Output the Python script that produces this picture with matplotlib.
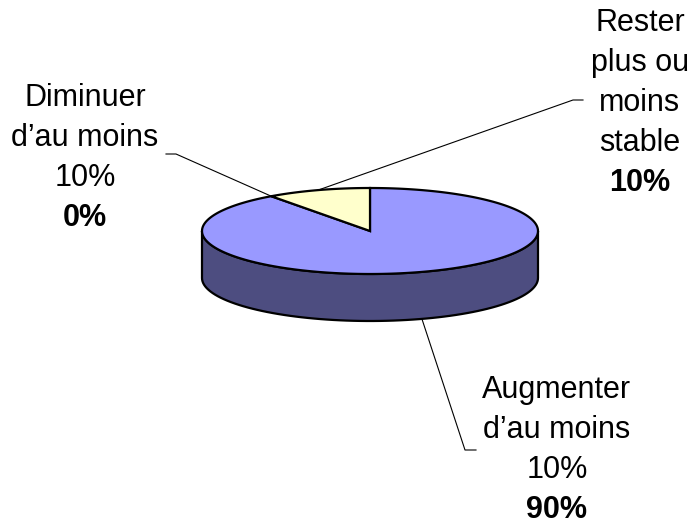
import numpy as np
import matplotlib
matplotlib.use("Agg")
import matplotlib.pyplot as plt
from matplotlib.patches import Polygon

# data (order as in the original sheet)
labels = ["Augmenter\nd\u2019au moins\n10%", "Diminuer\nd\u2019au moins\n10%", "Rester\nplus ou\nmoins\nstable"]
values = [90, 0, 10]
pct_labels = ["90%", "0%", "10%"]
top_colors = ["#9999FF", "#993366", "#FFFFCC"]
side_colors = ["#4D4D80", "#4D1A33", "#808066"]

# layout (pixels)
cx, cy, a, b, depth = 370, 231, 168, 43, 47
label_pos = [(557, 398), (85, 106), (640, 31)]      # text centre x, first baseline
elbows = [((465, 450), (476, 450)), ((176, 154), (166, 154)), ((573, 100), (583, 100))]
line_gap = 40

fig = plt.figure(figsize=(6.91, 5.27), dpi=100)
ax = fig.add_axes([0, 0, 1, 1])
ax.set_xlim(0, 691)
ax.set_ylim(527, 0)
ax.axis("off")


def rim(t, dy=0):
    t = np.radians(t)
    return np.column_stack([cx + a * np.cos(t), cy - b * np.sin(t) + dy])


total = float(sum(values))
cum = np.concatenate([[0], np.cumsum(values)])
starts = 90 - 360 * cum[:-1] / total
ends = 90 - 360 * cum[1:] / total

# side wall (front half only: angles -180..0)
for s, e, col in zip(starts, ends, side_colors):
    lo, hi = min(s, e), max(s, e)
    for shift in (0, -360, 360):
        l, h = max(lo + shift, -180), min(hi + shift, 0)
        if h - l <= 0:
            continue
        t = np.linspace(l, h, 80)
        pts = np.vstack([rim(t), rim(t[::-1], depth)])
        ax.add_patch(Polygon(pts, closed=True, fc=col, ec="black", lw=1.6, zorder=2))

# top face
for s, e, col in zip(starts, ends, top_colors):
    if s == e:
        continue
    t = np.linspace(s, e, 200)
    pts = np.vstack([[cx, cy], rim(t)])
    ax.add_patch(Polygon(pts, closed=True, fc=col, ec="black", lw=1.6, zorder=3))

# labels and leader lines
for i, lab in enumerate(labels):
    mid = (starts[i] + ends[i]) / 2
    ax_, ay_ = rim(np.array([mid]))[0]
    if np.sin(np.radians(mid)) < 0:
        ay_ += depth
    (ex, ey), (fx, fy) = elbows[i]
    ax.plot([ax_, ex, fx], [ay_, ey, fy], color="black", lw=0.8, zorder=4)
    x0, y0 = label_pos[i]
    lines = lab.split("\n")
    for j, ln in enumerate(lines):
        ax.text(x0, y0 + j * line_gap, ln, ha="center", va="baseline",
                fontsize=22, family="Liberation Sans")
    ax.text(x0, y0 + len(lines) * line_gap, pct_labels[i], ha="center", va="baseline",
            fontsize=22, family="Liberation Sans", fontweight="bold")

fig.savefig("out.png", dpi=100)
